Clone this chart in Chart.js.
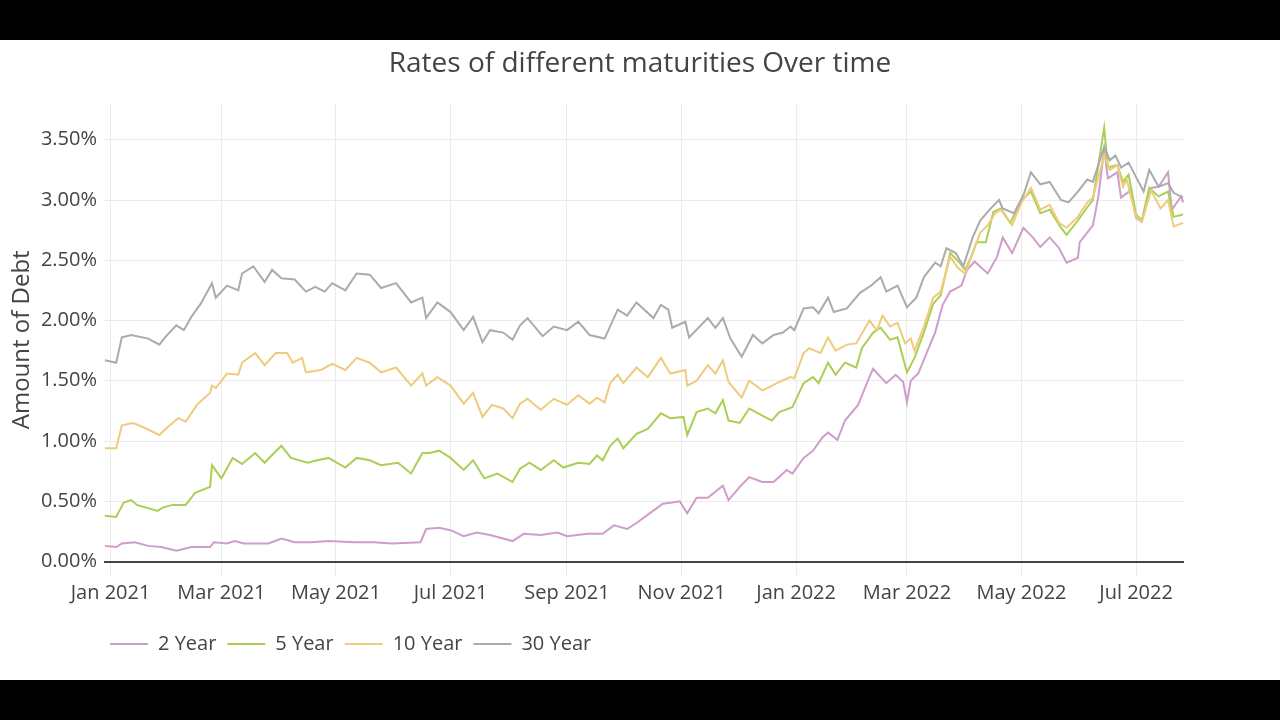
<!DOCTYPE html>
<html>
<head>
<meta charset="utf-8">
<script src="https://cdn.jsdelivr.net/npm/chart.js@4"></script>
<style>
  html, body { margin: 0; padding: 0; background: #000; width: 1280px; height: 720px; overflow: hidden; }
  #wrap { position: absolute; left: 0; top: 40px; width: 1280px; height: 640px; background: #fff; }
</style>
</head>
<body>
<div id="wrap"><canvas id="c" width="1280" height="640"></canvas></div>
<script>
// x values: days since 2021-01-01
const tickDays   = [0, 59, 120, 181, 243, 304, 365, 424, 485, 546];
const tickLabels = ["Jan 2021","Mar 2021","May 2021","Jul 2021","Sep 2021","Nov 2021","Jan 2022","Mar 2022","May 2022","Jul 2022"];
const yTicks = [0, 0.5, 1, 1.5, 2, 2.5, 3, 3.5];

const twoYearDays = [-3,3,6,13,20,27,35,43,53,55,62,66,71,84,91,98,107,116,130,140,150,165,168,175,181,188,195,202,214,220,229,238,243,254,262,268,275,280,287,294,299,303,307,312,318,326,329,335,340,347,353,360,363,369,374,379,382,387,391,398,404,406,410,413,418,422,424,426,430,435,439,443,447,453,456,460,467,472,475,480,486,491,495,500,505,509,515,516,523,526,529,531,536,538,543,546,549,554,558,563,565,570,571];
const twoYearRates = [0.13,0.12,0.15,0.16,0.13,0.12,0.09,0.12,0.12,0.16,0.15,0.17,0.15,0.15,0.19,0.16,0.16,0.17,0.16,0.16,0.15,0.16,0.27,0.28,0.26,0.21,0.24,0.22,0.17,0.23,0.22,0.24,0.21,0.23,0.23,0.30,0.27,0.32,0.40,0.48,0.49,0.50,0.40,0.53,0.53,0.63,0.51,0.62,0.70,0.66,0.66,0.76,0.73,0.86,0.92,1.03,1.07,1.01,1.17,1.30,1.53,1.60,1.53,1.48,1.55,1.49,1.32,1.50,1.56,1.75,1.90,2.13,2.24,2.29,2.42,2.49,2.39,2.53,2.69,2.56,2.77,2.69,2.61,2.69,2.60,2.48,2.52,2.65,2.79,3.04,3.42,3.18,3.23,3.02,3.08,2.85,2.82,3.10,3.11,3.23,2.92,3.03,2.98];

const fiveYearDays = [-3,3,7,11,14,25,28,33,40,45,53,54,59,65,70,77,82,87,91,96,105,110,116,125,131,138,144,153,160,166,170,175,181,188,193,199,206,214,218,223,229,236,241,249,255,259,262,266,270,273,280,286,293,298,305,307,312,318,322,326,329,335,340,347,352,356,363,369,374,377,382,386,391,397,400,406,410,415,419,424,428,433,438,442,447,452,455,459,461,466,470,474,479,485,490,495,500,506,509,515,520,523,529,531,536,539,542,546,549,553,558,563,566,571];
const fiveYearRates = [0.38,0.37,0.49,0.51,0.47,0.42,0.45,0.47,0.47,0.57,0.62,0.80,0.69,0.86,0.81,0.90,0.82,0.90,0.96,0.86,0.82,0.84,0.86,0.78,0.86,0.84,0.80,0.82,0.73,0.90,0.90,0.92,0.86,0.76,0.84,0.69,0.73,0.66,0.77,0.82,0.76,0.84,0.78,0.82,0.81,0.88,0.84,0.96,1.02,0.94,1.06,1.10,1.23,1.19,1.20,1.05,1.24,1.27,1.23,1.34,1.17,1.15,1.27,1.21,1.17,1.24,1.28,1.48,1.53,1.48,1.65,1.55,1.65,1.61,1.77,1.90,1.94,1.84,1.86,1.57,1.69,1.90,2.14,2.21,2.56,2.48,2.42,2.56,2.65,2.65,2.90,2.93,2.81,3.00,3.07,2.89,2.92,2.77,2.71,2.83,2.94,3.00,3.60,3.27,3.29,3.15,3.21,2.88,2.83,3.10,3.03,3.07,2.86,2.88];

const tenYearDays = [-3,3,6,12,18,26,30,36,40,46,53,54,56,62,68,70,77,82,88,94,97,102,104,112,118,125,131,138,144,152,160,166,168,174,181,188,193,198,203,209,214,218,222,229,236,243,249,255,259,263,266,270,273,280,286,293,298,306,307,312,318,322,326,329,336,340,347,351,356,362,364,369,372,378,382,386,392,397,404,408,411,415,419,423,426,428,433,438,442,447,451,455,459,463,467,471,474,480,485,490,495,500,505,509,515,520,523,529,532,536,539,541,546,549,554,559,563,566,571];
const tenYearRates = [0.94,0.94,1.13,1.15,1.11,1.05,1.11,1.19,1.16,1.30,1.40,1.46,1.44,1.56,1.55,1.65,1.73,1.63,1.73,1.73,1.65,1.69,1.57,1.59,1.64,1.59,1.69,1.65,1.57,1.61,1.46,1.56,1.46,1.53,1.46,1.31,1.40,1.20,1.30,1.27,1.19,1.31,1.35,1.26,1.35,1.30,1.38,1.31,1.36,1.32,1.48,1.55,1.48,1.61,1.53,1.69,1.56,1.59,1.46,1.50,1.63,1.56,1.67,1.49,1.36,1.50,1.42,1.45,1.49,1.53,1.52,1.73,1.77,1.73,1.86,1.75,1.80,1.81,2.00,1.92,2.04,1.95,1.98,1.81,1.85,1.75,1.95,2.19,2.24,2.53,2.44,2.39,2.56,2.73,2.79,2.89,2.92,2.79,2.98,3.10,2.92,2.96,2.81,2.77,2.86,2.98,3.02,3.37,3.25,3.29,3.11,3.17,2.86,2.82,3.08,2.93,3.00,2.78,2.81];

const thirtyYearDays = [-3,3,6,11,20,26,29,35,39,43,48,54,56,62,68,70,76,82,86,91,98,104,109,114,118,125,131,138,144,152,160,166,168,174,181,188,193,198,202,209,214,218,222,230,236,243,249,255,263,270,275,280,289,293,297,299,306,308,318,322,326,330,336,342,347,353,358,362,364,369,374,377,382,385,392,399,405,410,413,419,424,429,433,439,442,445,450,454,459,463,468,473,475,481,486,490,495,500,506,510,515,520,523,529,532,535,538,542,546,550,553,558,563,566,571];
const thirtyYearRates = [1.67,1.65,1.86,1.88,1.85,1.80,1.86,1.96,1.92,2.03,2.14,2.31,2.19,2.29,2.25,2.39,2.45,2.32,2.42,2.35,2.34,2.24,2.28,2.24,2.31,2.25,2.39,2.38,2.27,2.31,2.15,2.19,2.02,2.15,2.07,1.92,2.03,1.82,1.92,1.90,1.84,1.96,2.02,1.87,1.95,1.92,1.99,1.88,1.85,2.09,2.04,2.15,2.02,2.13,2.09,1.94,1.99,1.86,2.02,1.94,2.02,1.85,1.70,1.88,1.81,1.88,1.90,1.95,1.92,2.10,2.11,2.06,2.19,2.07,2.10,2.23,2.29,2.36,2.24,2.29,2.11,2.19,2.36,2.48,2.45,2.60,2.56,2.45,2.69,2.83,2.92,3.00,2.93,2.89,3.04,3.23,3.13,3.15,3.00,2.98,3.07,3.17,3.15,3.44,3.33,3.37,3.27,3.31,3.19,3.07,3.25,3.11,3.14,3.06,3.02];

const seriesNames = ["2 Year", "5 Year", "10 Year", "30 Year"];
const seriesColors = ["#cf9dcb", "#abcf55", "#efcb7c", "#ababab"];

function pts(days, vals) { return days.map((d, i) => ({ x: d, y: vals[i] })); }
const allDays = [twoYearDays, fiveYearDays, tenYearDays, thirtyYearDays];
const allRates = [twoYearRates, fiveYearRates, tenYearRates, thirtyYearRates];

const datasets = seriesNames.map((name, i) => ({
  label: name,
  data: pts(allDays[i], allRates[i]),
  borderColor: seriesColors[i],
  backgroundColor: seriesColors[i],
  borderWidth: 2,
  pointRadius: 0,
  tension: 0,
  yAxisID: 'y',
  xAxisID: 'x',
  order: 4 - i
}));

const FONT = "'Open Sans', 'Noto Sans', sans-serif";
const LEGEND_PAD = 11;

const legendShift = {
  id: 'legendShift',
  afterLayout(chart) {
    if (chart.legend) { chart.legend.left = 110 - LEGEND_PAD; }
  }
};

new Chart(document.getElementById('c'), {
  type: 'line',
  data: { datasets },
  plugins: [legendShift],
  options: {
    responsive: false,
    animation: false,
    layout: { padding: { left: 0, right: 0, top: 0, bottom: 16 } },
    plugins: {
      title: {
        display: true,
        text: 'Rates of different maturities Over time',
        color: '#444',
        font: { family: FONT, size: 28, weight: 'normal' },
        padding: { top: 7, bottom: 23 }
      },
      legend: {
        position: 'bottom',
        align: 'start',
        fullSize: false,
        labels: {
          usePointStyle: true,
          pointStyle: 'line',
          pointStyleWidth: 38,
          boxHeight: 20,
          padding: LEGEND_PAD,
          color: '#444',
          font: { family: FONT, size: 20 },
          sort: (a, b) => a.datasetIndex - b.datasetIndex
        }
      },
      tooltip: { enabled: false }
    },
    scales: {
      x: {
        type: 'linear',
        min: -3.5,
        max: 571.5,
        afterBuildTicks: (s) => { s.ticks = tickDays.map(v => ({ value: v })); },
        afterFit: (s) => { s.height = 47; },
        ticks: {
          autoSkip: false,
          maxRotation: 0,
          padding: 5,
          color: '#444',
          font: { family: FONT, size: 20 },
          callback: (v) => { const k = tickDays.indexOf(v); return k >= 0 ? tickLabels[k] : ''; }
        },
        grid: { color: '#ebebeb', lineWidth: 1, drawTicks: false },
        border: { display: false }
      },
      y: {
        position: 'left',
        min: -0.12,
        max: 3.8,
        afterBuildTicks: (s) => { s.ticks = yTicks.map(v => ({ value: v })); },
        afterFit: (s) => { s.width = 104; },
        ticks: {
          padding: 7,
          color: '#444',
          font: { family: FONT, size: 20 },
          callback: (v) => v.toFixed(2) + '%'
        },
        grid: {
          color: (ctx) => (ctx.tick && ctx.tick.value === 0) ? '#444' : '#ebebeb',
          lineWidth: (ctx) => (ctx.tick && ctx.tick.value === 0) ? 2 : 1,
          drawTicks: false
        },
        border: { display: false },
        title: {
          display: true,
          text: 'Amount of Debt',
          color: '#444',
          font: { family: FONT, size: 24 },
          padding: { top: 8, bottom: 0 }
        }
      },
      rightSpace: {
        type: 'linear',
        axis: 'y',
        position: 'right',
        display: true,
        afterFit: (s) => { s.width = 96; },
        ticks: { display: false },
        grid: { display: false, drawTicks: false },
        border: { display: false }
      }
    }
  }
});
</script>
</body>
</html>
